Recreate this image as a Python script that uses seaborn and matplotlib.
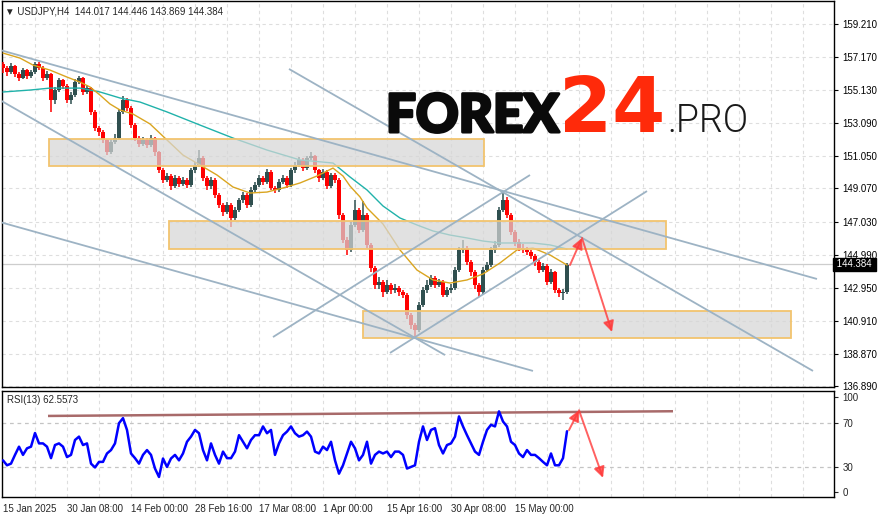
import numpy as np
import pandas as pd
import matplotlib
matplotlib.use("Agg")
import matplotlib.pyplot as plt
from matplotlib.patches import Rectangle
import matplotlib.patheffects as pe
import seaborn as sns

sns.set_style("white")
plt.rcParams['font.family'] = ['Liberation Sans', 'DejaVu Sans']

# ---------------- data ----------------
# one stored candle = 4 H4 bars
opens = [156.74, 156.50, 156.25, 156.62, 156.13, 155.88, 156.37, 156.00, 156.25, 156.74,
         156.50, 155.88, 156.13, 154.52, 155.14, 155.76, 155.39, 154.52, 154.83, 155.63,
         155.88, 155.02, 155.26, 153.79, 152.80, 152.55, 152.06, 151.32, 151.94, 152.18,
         153.79, 154.52, 154.03, 152.98, 152.18, 151.81, 152.06, 151.75, 152.18, 151.32,
         150.21, 149.59, 149.84, 149.22, 149.72, 149.35, 149.59, 149.28, 150.21, 150.52,
         150.95, 149.72, 149.22, 149.59, 148.67, 148.05, 147.62, 148.05, 147.25, 147.74,
         148.36, 148.67, 148.05, 148.98, 149.28, 149.72, 149.47, 150.09, 149.10, 148.98,
         149.47, 149.72, 149.28, 150.21, 150.52, 150.83, 150.33, 150.95, 151.07, 150.21,
         149.72, 150.09, 149.22, 149.90, 149.59, 147.43, 145.89, 145.28, 146.82, 147.74,
         146.51, 147.43, 145.59, 144.17, 143.12, 143.30, 142.69, 143.12, 142.81, 142.93,
         142.69, 142.50, 141.27, 140.65, 140.35, 141.89, 142.81, 143.12, 143.55, 143.12,
         143.30, 142.50, 142.81, 142.93, 144.04, 145.28, 145.40, 144.54, 143.92, 143.12,
         142.69, 144.04, 144.35, 145.28, 145.59, 147.74, 148.36, 147.43, 146.39, 145.77,
         145.40, 145.28, 145.15, 144.91, 144.54, 144.04, 144.29, 143.30, 143.92, 142.81,
         142.63, 142.69]
closes = [156.50, 156.25, 156.62, 156.13, 155.88, 156.37, 156.00, 156.25, 156.74, 156.50,
          155.88, 156.13, 154.52, 155.14, 155.76, 155.39, 154.52, 154.83, 155.63, 155.88,
          155.02, 155.26, 153.79, 152.80, 152.55, 152.06, 151.32, 151.94, 152.18, 153.79,
          154.52, 154.03, 152.98, 152.18, 151.81, 152.06, 151.75, 152.18, 151.32, 150.21,
          149.59, 149.84, 149.22, 149.72, 149.35, 149.59, 149.28, 150.21, 150.52, 150.95,
          149.72, 149.22, 149.59, 148.67, 148.05, 147.62, 148.05, 147.25, 147.74, 148.36,
          148.67, 148.05, 148.98, 149.28, 149.72, 149.47, 150.09, 149.10, 148.98, 149.47,
          149.72, 149.28, 150.21, 150.52, 150.83, 150.33, 150.95, 151.07, 150.21, 149.72,
          150.09, 149.22, 149.90, 149.59, 147.43, 145.89, 145.28, 146.82, 147.74, 146.51,
          147.43, 145.59, 144.17, 143.12, 143.30, 142.69, 143.12, 142.81, 142.93, 142.69,
          142.50, 141.27, 140.65, 140.35, 141.89, 142.81, 143.12, 143.55, 143.12, 143.30,
          142.50, 142.81, 142.93, 144.04, 145.28, 145.40, 144.54, 143.92, 143.12, 142.69,
          144.04, 144.35, 145.28, 145.59, 147.74, 148.36, 147.43, 146.39, 145.77, 145.40,
          145.28, 145.15, 144.91, 144.54, 144.04, 144.29, 143.30, 143.92, 142.81, 142.63,
          142.69, 144.38]
highs = [156.87, 156.62, 156.80, 156.70, 156.25, 156.50, 156.45, 156.40, 156.87, 156.85,
         156.60, 156.30, 156.20, 155.30, 155.90, 155.85, 155.50, 155.00, 155.80, 156.03,
         155.95, 155.45, 155.35, 153.90, 152.95, 152.70, 152.15, 152.10, 152.40, 153.95,
         154.77, 154.65, 154.15, 153.10, 152.30, 152.25, 152.20, 152.35, 152.25, 151.40,
         150.35, 150.05, 149.95, 149.90, 149.85, 149.80, 149.70, 150.35, 150.70, 151.44,
         151.05, 149.85, 149.80, 149.70, 148.80, 148.20, 148.25, 148.15, 147.90, 148.50,
         148.85, 148.80, 149.15, 149.45, 149.90, 149.85, 150.25, 150.20, 149.25, 149.65,
         149.90, 149.85, 150.35, 150.70, 151.00, 150.95, 151.10, 151.32, 151.15, 150.30,
         150.25, 150.20, 150.05, 150.00, 149.70, 147.55, 146.05, 147.00, 148.36, 147.85,
         148.30, 147.55, 145.70, 144.30, 143.60, 143.45, 143.40, 143.25, 143.15, 143.05,
         142.80, 142.60, 141.40, 140.80, 142.05, 143.00, 143.40, 143.75, 143.70, 143.50,
         143.40, 143.00, 143.20, 144.20, 145.45, 145.89, 145.55, 144.65, 144.05, 143.25,
         144.20, 144.55, 145.45, 145.85, 147.90, 148.79, 148.55, 147.55, 146.50, 145.95,
         145.65, 145.45, 145.30, 145.05, 144.65, 144.50, 144.40, 144.10, 144.00, 142.95,
         142.90, 144.45]
lows = [156.20, 156.00, 156.10, 155.95, 155.70, 155.80, 155.85, 155.90, 156.15, 156.35,
        155.70, 155.75, 153.79, 154.30, 155.00, 155.20, 154.35, 154.30, 154.70, 155.50,
        154.85, 154.90, 153.60, 152.60, 152.30, 151.85, 151.13, 151.20, 151.80, 152.05,
        153.65, 153.85, 152.80, 152.00, 151.60, 151.70, 151.55, 151.60, 151.10, 150.00,
        149.40, 149.45, 149.00, 149.10, 149.15, 149.20, 149.10, 149.15, 150.05, 150.40,
        149.55, 149.00, 149.05, 148.50, 147.85, 147.40, 147.50, 146.70, 147.10, 147.60,
        148.20, 147.85, 147.95, 148.85, 149.15, 149.30, 149.35, 148.95, 148.80, 148.85,
        149.35, 149.10, 149.15, 150.05, 150.40, 150.15, 150.20, 150.80, 150.00, 149.50,
        149.60, 149.05, 149.10, 149.40, 147.20, 145.70, 144.97, 145.15, 146.70, 146.30,
        146.40, 145.40, 143.95, 142.90, 142.90, 142.40, 142.55, 142.55, 142.65, 142.45,
        142.30, 141.05, 140.40, 139.90, 140.20, 141.75, 142.65, 143.00, 142.95, 143.00,
        142.35, 142.35, 142.65, 142.80, 143.90, 145.10, 144.35, 143.70, 142.90, 142.38,
        142.55, 143.90, 144.20, 145.10, 145.45, 147.60, 147.25, 146.20, 145.55, 145.20,
        145.10, 144.95, 144.70, 144.30, 143.85, 143.90, 143.10, 143.15, 142.60, 142.40,
        142.20, 142.55]
rsi_values = [36, 31.5, 33, 41, 48.5, 41, 47, 48.5, 61, 51.5,
              51.5, 48.5, 38, 50, 51.5, 48.5, 39, 41, 54.6, 57.7,
              50, 51.5, 33, 29.5, 34.6, 34.6, 42.3, 45.4, 51.5, 70,
              74.6, 63.8, 42.3, 38, 33, 41, 45.4, 41, 28.5, 20.8,
              37.7, 30, 37.7, 41, 36, 42.3, 53, 57.7, 63.8, 60.8,
              45.4, 36, 51.5, 41, 33, 44, 38, 38, 44, 59,
              53, 47, 54.6, 59, 59, 67, 60.8, 63.8, 41, 51.5,
              59, 62.3, 67, 60.8, 57.7, 59, 62.3, 57.7, 44, 42.3,
              48.5, 45.4, 53, 36, 23.8, 31.5, 42.3, 53, 47, 36,
              41, 53, 33, 41, 44, 42.3, 44, 39, 44, 44,
              41, 28.5, 30, 31.5, 53, 67, 54.6, 63.8, 65.4, 50,
              42.3, 50, 51.5, 57.7, 76.2, 67, 59, 51.5, 44, 41,
              53, 63.8, 68.5, 67, 80.8, 71.5, 67, 53, 50, 42.3,
              39, 45.4, 41, 41, 38, 34.6, 31.5, 42.3, 31.5, 31.5,
              38, 62.6]
bars_per_candle = 4

ma_fast_x = [0, 17, 30, 47, 64, 77, 87, 97, 107, 117, 130, 147, 164, 180, 197, 214, 230, 247, 264, 280,
             297, 314, 330, 340, 347, 357, 364, 380, 397, 414, 430, 447, 464, 480, 497, 514, 530, 547, 564]
ma_fast = [157.42, 157.11, 156.68, 156.37, 155.94, 155.63, 155.33, 154.83, 154.28, 153.91,
           153.66, 153.05, 152.06, 151.13, 150.52, 149.90, 149.16, 148.79, 148.85, 149.10,
           149.41, 149.84, 150.33, 149.84, 149.22, 148.55, 147.87, 146.88, 145.28, 144.04,
           143.43, 143.24, 143.43, 143.80, 144.48, 145.28, 145.40, 144.97, 144.35]
ma_slow_x = [0, 27, 47, 77, 97, 117, 137, 164, 197, 230, 264, 297, 330, 347, 364, 380, 397, 414, 430, 447,
             464, 480, 497, 514, 530, 547, 564]
ma_slow = [155.02, 155.14, 155.26, 155.26, 155.02, 154.65, 154.40, 153.79, 152.98, 152.18,
           151.44, 150.83, 150.64, 149.78, 148.98, 147.99, 147.25, 146.82, 146.45, 146.20,
           146.02, 145.83, 145.71, 145.71, 145.71, 145.59, 145.34]

# trend lines: (x0, price0, x1, price1)
trend_lines = [(-3, 157.61, 814, 143.49),
               (-3, 154.52, 442, 138.80),
               (-3, 147.00, 530, 137.82),
               (270, 139.91, 527, 149.90),
               (387, 138.93, 644, 148.91),
               (286, 156.44, 810, 137.82)]
# zones: (x0, x1, price_low, price_high)
zones = [(46, 481, 150.46, 152.12),
         (166, 663, 145.34, 147.07),
         (360, 788, 139.85, 141.52)]
arrow_x = [567, 579, 609]
arrow_price = [144.35, 146.02, 140.22]
rsi_line_x = [45, 670]
rsi_line_val = [76.6, 80.9]
rsi_arrow_x = [566, 576, 600]
rsi_arrow_val = [63.6, 81.8, 20.0]

price_ticks = [159.210, 157.170, 155.130, 153.090, 151.050, 149.070, 147.030,
               144.990, 142.950, 140.910, 138.870, 136.890]
date_labels = ["15 Jan 2025", "30 Jan 08:00", "14 Feb 00:00", "28 Feb 16:00", "17 Mar 08:00",
               "1 Apr 00:00", "15 Apr 16:00", "30 Apr 08:00", "15 May 00:00"]
bars_per_label = 64
last_price = 144.384
header = "\u25BC USDJPY,H4  144.017 144.446 143.869 144.384"
rsi_title = "RSI(13) 62.5573"

# ---------------- figure ----------------
W, H = 882, 519
fig = plt.figure(figsize=(W / 100, H / 100), dpi=100)
fig.patch.set_facecolor("white")
ax = fig.add_axes([2 / W, 1 - 387 / H, 832 / W, 386 / H])
rx = fig.add_axes([2 / W, 1 - 497 / H, 832 / W, 106 / H])

XL = (-1, 831)
grid_kw = dict(color="#DEDEDE", lw=0.8, ls=(0, (3, 3)), zorder=0)
for a in (ax, rx):
    a.set_xlim(*XL)
    for gx in range(32, 831, 32):
        a.axvline(gx, **grid_kw)
    for s in a.spines.values():
        s.set_color("black")
        s.set_linewidth(1.0)

ax.set_ylim(136.83, 160.63)
for p in price_ticks:
    ax.axhline(p, **grid_kw)
ax.axhline(last_price, color="#CDCDCD", lw=0.9, zorder=1)

# candles
n = len(closes)
xs = np.arange(n) * bars_per_candle
o = np.array(opens); c = np.array(closes)
bull = c >= o
cols = np.where(bull, "#2F4F4F", "#FF0000")
ax.vlines(xs, lows, highs, colors=cols, lw=1.1, zorder=3)
body_low = np.minimum(o, c)
body_h = np.maximum(np.abs(c - o), 0.03)
ax.bar(xs, body_h, bottom=body_low, width=3.5, color=cols, linewidth=0, zorder=3)

# moving averages
sns.lineplot(x=ma_slow_x, y=ma_slow, ax=ax, color="#20B2AA", lw=1.0, zorder=4, sort=False, estimator=None)
sns.lineplot(x=ma_fast_x, y=ma_fast, ax=ax, color="#DAA520", lw=1.0, zorder=4, sort=False, estimator=None)

# zones
for x0, x1, p0, p1 in zones:
    ax.add_patch(Rectangle((x0, p0), x1 - x0, p1 - p0, facecolor=(0.84, 0.84, 0.84, 0.72),
                           edgecolor="#F2C46E", lw=1.3, zorder=5))

# trend lines
for x0, p0, x1, p1 in trend_lines:
    ax.plot([x0, x1], [p0, p1], color="#9DB3C4", lw=1.3, zorder=6, solid_capstyle="butt")

# arrows
akw = dict(arrowstyle="-|>", color="#FF3A3A", lw=1.4, mutation_scale=16, shrinkA=0, shrinkB=0, alpha=0.8)
for i in range(len(arrow_x) - 1):
    ax.annotate("", xy=(arrow_x[i + 1], arrow_price[i + 1]), xytext=(arrow_x[i], arrow_price[i]),
                arrowprops=akw, zorder=7)

ax.yaxis.tick_right()
ax.set_yticks(price_ticks)
ax.set_yticklabels([f"{p:.3f}" for p in price_ticks])
ax.tick_params(axis="y", direction="out", length=3, width=0.8, labelsize=7, pad=3, colors="black")
ax.set_xticks([])
ax.set_xlabel(""); ax.set_ylabel("")

ax.text(1.0, last_price, " 144.384 ", transform=ax.get_yaxis_transform(), ha="left", va="center",
        fontsize=7, color="white", zorder=10,
        bbox=dict(boxstyle="square,pad=0.12", fc="black", ec="black"))

# RSI panel
rx.set_ylim(2.5, 99.4)
for lv in (70, 30):
    rx.axhline(lv, color="#C4C4C4", lw=0.9, ls=(0, (3, 3)), zorder=0)
rsi_x = np.arange(len(rsi_values)) * bars_per_candle
sns.lineplot(x=rsi_x, y=rsi_values, ax=rx, color="#0000FF", lw=1.8, zorder=3, sort=False, estimator=None)
rx.plot(rsi_line_x, rsi_line_val, color="#A86A6A", lw=1.8, zorder=2, solid_capstyle="butt")
for i in range(len(rsi_arrow_x) - 1):
    rx.annotate("", xy=(rsi_arrow_x[i + 1], rsi_arrow_val[i + 1]), xytext=(rsi_arrow_x[i], rsi_arrow_val[i]),
                arrowprops=akw, zorder=7)
rx.yaxis.tick_right()
rx.set_yticks([93.6, 70, 30, 7.3])
rx.set_yticklabels(["100", "70", "30", "0"])
rx.tick_params(axis="y", direction="out", length=3, width=0.8, labelsize=7, pad=3)
rx.set_xticks(np.arange(len(date_labels)) * bars_per_label)
rx.set_xticklabels(date_labels, ha="left")
rx.tick_params(axis="x", direction="out", length=3, width=0.8, labelsize=7, pad=2)
rx.set_xlabel(""); rx.set_ylabel("")

fig.text(7 / W, 1 - 400 / H, rsi_title, fontsize=7, va="center", ha="left")
fig.text(5 / W, 1 - 11 / H, header, fontsize=7, va="center", ha="left")

# logo
fig.text(386 / W, 1 - 132 / H, "FOREX", fontsize=38, fontweight=900, color="#0A0A0A",
         family=["Lato", "DejaVu Sans"], va="baseline", ha="left", zorder=20,
         path_effects=[pe.withStroke(linewidth=2.2, foreground="#0A0A0A")])
fig.text(559 / W, 1 - 132 / H, "24", fontsize=55, fontweight="bold", color="#FF2A0A",
         family=["DejaVu Sans"], va="baseline", ha="left", zorder=20)
fig.text(667 / W, 1 - 132 / H, ".PRO", fontsize=27, fontweight=300, color="#1A1A1A",
         family=["Roboto", "DejaVu Sans"], va="baseline", ha="left", zorder=20)

fig.savefig("out.png", dpi=100, facecolor="white")
